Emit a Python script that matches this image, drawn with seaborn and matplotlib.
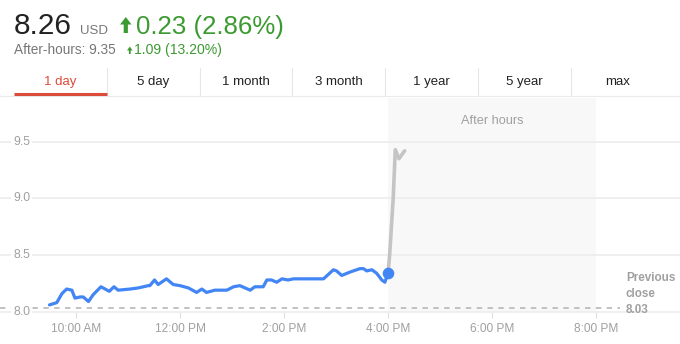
import matplotlib
matplotlib.use("Agg")
import matplotlib.pyplot as plt
from matplotlib.lines import Line2D
from matplotlib.patches import FancyArrow
import matplotlib.transforms as mtransforms
import seaborn as sns
import pandas as pd

# ---------------- data ----------------
session_hours = [9.49, 9.63, 9.73, 9.82, 9.92, 9.98, 10.08, 10.14, 10.24, 10.33,
                 10.48, 10.64, 10.73, 10.81, 11.04, 11.20, 11.39, 11.42, 11.51, 11.58,
                 11.74, 11.87, 12.00, 12.16, 12.32, 12.42, 12.51, 12.67, 12.90, 13.03,
                 13.15, 13.35, 13.44, 13.60, 13.67, 13.76, 13.86, 13.96, 14.08, 14.18,
                 14.76, 14.95, 15.01, 15.11, 15.27, 15.46, 15.53, 15.59, 15.69, 15.78,
                 15.88, 15.94, 16.00]
session_prices = [8.06, 8.08, 8.16, 8.20, 8.19, 8.12, 8.13, 8.13, 8.09, 8.15,
                  8.22, 8.18, 8.22, 8.19, 8.20, 8.21, 8.23, 8.23, 8.28, 8.24,
                  8.29, 8.24, 8.23, 8.21, 8.17, 8.20, 8.17, 8.19, 8.19, 8.22,
                  8.23, 8.19, 8.22, 8.22, 8.28, 8.28, 8.26, 8.29, 8.28, 8.29,
                  8.29, 8.37, 8.36, 8.32, 8.35, 8.38, 8.38, 8.36, 8.37, 8.34,
                  8.28, 8.26, 8.34]
after_hours = [16.00, 16.03, 16.10, 16.14, 16.21, 16.32]
after_prices = [8.34, 8.49, 9.00, 9.43, 9.35, 9.42]

previous_close = 8.03
after_start, after_end = 16, 20
x_ticks = [10, 12, 14, 16, 18, 20]
x_tick_labels = ["10:00 AM", "12:00 PM", "2:00 PM", "4:00 PM", "6:00 PM", "8:00 PM"]
y_ticks = [8.0, 8.5, 9.0, 9.5]
y_tick_labels = ["8.0", "8.5", "9.0", "9.5"]
tabs = ["1 day", "5 day", "1 month", "3 month", "1 year", "5 year", "max"]

# ---------------- style ----------------
sns.set_theme(style="white")
plt.rcParams["font.family"] = ["Liberation Sans", "DejaVu Sans"]

W, H = 680, 344
fig = plt.figure(figsize=(W / 100, H / 100), dpi=100)

def fx(x):
    return x / W

def fy(y):
    return 1 - y / H

GREEN = "#3c9a32"
RED = "#dd4b39"
GRAY_TXT = "#a0a0a0"

# ---------------- header ----------------
fig.text(fx(14), fy(34), "8.26", fontsize=21.4, color="#222222", va="baseline", ha="left")
fig.text(fx(80), fy(34), "USD", fontsize=9.5, color="#777777", va="baseline", ha="left")
px = fig.dpi_scale_trans
fig.add_artist(FancyArrow(125.8 / 100, (H - 33) / 100, 0, 16 / 100, width=4.2 / 100,
                          head_width=11.5 / 100, head_length=7.5 / 100,
                          length_includes_head=True, transform=px, color=GREEN, lw=0))
fig.text(fx(136), fy(34), "0.23 (2.86%)", fontsize=18.6, color=GREEN, va="baseline", ha="left")

fig.text(fx(14), fy(54), "After-hours: 9.35", fontsize=9.8, color="#777777", va="baseline", ha="left")
fig.add_artist(FancyArrow(129.8 / 100, (H - 54) / 100, 0, 7.5 / 100, width=1.8 / 100,
                          head_width=5.5 / 100, head_length=4 / 100,
                          length_includes_head=True, transform=px, color=GREEN, lw=0))
fig.text(fx(134), fy(54), "1.09 (13.20%)", fontsize=10.1, color=GREEN, va="baseline", ha="left")

# ---------------- tabs ----------------
tab_w = 92.8
tab_x0 = 14
for i, t in enumerate(tabs):
    cx = tab_x0 + tab_w * (i + 0.5)
    fig.text(fx(cx), fy(85), t, fontsize=9.5, color=RED if i == 0 else "#222222",
             ha="center", va="baseline")
    if i > 0:
        sx = tab_x0 + tab_w * i
        fig.add_artist(Line2D([fx(sx), fx(sx)], [fy(68), fy(95)], color="#e6e6e6", lw=0.8))
fig.add_artist(Line2D([0, 1], [fy(96.5), fy(96.5)], color="#ebebeb", lw=0.8))
fig.add_artist(Line2D([fx(14), fx(14 + tab_w)], [fy(94.5), fy(94.5)], color=RED, lw=2.2,
                      solid_capstyle="butt"))

# ---------------- chart ----------------
ax_bottom_px, ax_top_px = 311.7, 98
ax = fig.add_axes([0, fy(ax_bottom_px), 1, (ax_bottom_px - ax_top_px) / H])
ppu = 113.3
x_left = 10 + (0 - 76) / 52
x_right = 10 + (W - 76) / 52
ax.set_xlim(x_left, x_right)
ax.set_ylim(8.0, 8.0 + (ax_bottom_px - ax_top_px) / ppu)
ax.set_facecolor("white")

ax.axvspan(after_start, after_end, color="#f8f8f8", zorder=0, lw=0)
for yv in y_ticks:
    ax.axhline(yv, color="#ececec", lw=1.2, zorder=1, clip_on=False)

ax.hlines(previous_close, x_left, 10 + (620 - 76) / 52, colors="#bdbdbd",
          linestyles=(0, (3, 3)), lw=1.3, zorder=2)

df_s = pd.DataFrame({"hour": session_hours, "price": session_prices})
df_a = pd.DataFrame({"hour": after_hours, "price": after_prices})
sns.lineplot(data=df_a, x="hour", y="price", ax=ax, color="#c4c4c4", lw=2.6,
             sort=False, estimator=None, zorder=3)
sns.lineplot(data=df_s, x="hour", y="price", ax=ax, color="#4285f4", lw=2.3,
             sort=False, estimator=None, zorder=4)
ax.scatter([session_hours[-1]], [session_prices[-1]], s=70, color="#4285f4", zorder=5, lw=0)

ax.text(18, 0.893, "After hours", transform=ax.get_xaxis_transform(), fontsize=9.2,
        color=GRAY_TXT, ha="center", va="center")

ylab_tr = mtransforms.blended_transform_factory(ax.transAxes, ax.transData)
for yv, lab in zip(y_ticks, y_tick_labels):
    ax.text(13 / W, yv, lab, transform=ylab_tr, fontsize=8.8, color=GRAY_TXT,
            ha="left", va="center", zorder=6, clip_on=False,
            bbox=dict(facecolor="white", edgecolor="none", pad=1.5))

ax.annotate("Previous\nclose\n8.03", xy=(626 / W, previous_close), xycoords=ylab_tr,
            xytext=(0, -3.4), textcoords="offset points", fontsize=8.4,
            fontweight="bold", color="#a0a0a0", ha="left", va="baseline",
            linespacing=1.45, zorder=6, annotation_clip=False)

ax.set_xticks(x_ticks)
ax.set_xticklabels(x_tick_labels)
ax.set_yticks([])
ax.tick_params(axis="x", length=4.3, width=0.8, color="#e0e0e0", pad=3.5,
               labelsize=8.6, labelcolor=GRAY_TXT, bottom=True)
for s in ax.spines.values():
    s.set_visible(False)
ax.set_xlabel("")
ax.set_ylabel("")

fig.savefig("out.png", dpi=100)
